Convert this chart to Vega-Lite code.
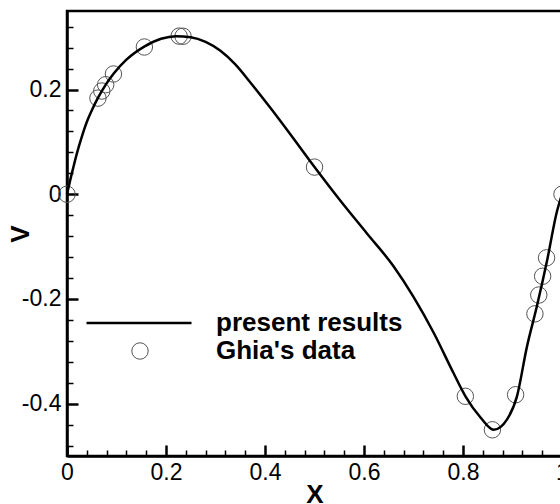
{
  "$schema": "https://vega.github.io/schema/vega-lite/v6.json",
  "width": 495,
  "height": 445,
  "autosize": "none",
  "padding": {"left": 67, "top": 11, "right": 10, "bottom": 48},
  "background": "white",
  "config": {"view": {"stroke": "black", "strokeWidth": 2.5}, "font": "Liberation Sans"},
  "datasets": {
    "ghia": [
      {"x": 0.0, "v": 0.0},
      {"x": 0.0625, "v": 0.1836},
      {"x": 0.0703, "v": 0.19713},
      {"x": 0.0781, "v": 0.2092},
      {"x": 0.0938, "v": 0.22965},
      {"x": 0.1563, "v": 0.28124},
      {"x": 0.2266, "v": 0.30203},
      {"x": 0.2344, "v": 0.30174},
      {"x": 0.5, "v": 0.05186},
      {"x": 0.8047, "v": -0.38598},
      {"x": 0.8594, "v": -0.44993},
      {"x": 0.9063, "v": -0.383},
      {"x": 0.9453, "v": -0.22847},
      {"x": 0.9531, "v": -0.19254},
      {"x": 0.9609, "v": -0.15663},
      {"x": 0.9688, "v": -0.12146},
      {"x": 1.0, "v": 0.0}
    ],
    "curve": [
      {"x": 0, "v": 0},
      {"x": 0.006, "v": 0.025},
      {"x": 0.013, "v": 0.052},
      {"x": 0.02, "v": 0.078},
      {"x": 0.03, "v": 0.11},
      {"x": 0.04, "v": 0.138},
      {"x": 0.05, "v": 0.16},
      {"x": 0.0625, "v": 0.184},
      {"x": 0.078, "v": 0.209},
      {"x": 0.094, "v": 0.23},
      {"x": 0.12, "v": 0.257},
      {"x": 0.156, "v": 0.282},
      {"x": 0.19, "v": 0.297},
      {"x": 0.22, "v": 0.302},
      {"x": 0.25, "v": 0.3},
      {"x": 0.28, "v": 0.291},
      {"x": 0.31, "v": 0.274},
      {"x": 0.34, "v": 0.248},
      {"x": 0.37, "v": 0.214},
      {"x": 0.41, "v": 0.166},
      {"x": 0.45, "v": 0.116},
      {"x": 0.5, "v": 0.052},
      {"x": 0.552, "v": -0.012},
      {"x": 0.606, "v": -0.075},
      {"x": 0.66, "v": -0.138},
      {"x": 0.7, "v": -0.196},
      {"x": 0.741, "v": -0.265},
      {"x": 0.781, "v": -0.342},
      {"x": 0.805, "v": -0.386},
      {"x": 0.835, "v": -0.426},
      {"x": 0.862, "v": -0.45},
      {"x": 0.889, "v": -0.43},
      {"x": 0.909, "v": -0.386},
      {"x": 0.929, "v": -0.292},
      {"x": 0.949, "v": -0.215},
      {"x": 0.97, "v": -0.126},
      {"x": 0.99, "v": -0.032},
      {"x": 1.0, "v": 0}
    ]
  },
  "encoding": {
    "x": {
      "field": "x",
      "type": "quantitative",
      "scale": {"domain": [0, 1], "nice": false, "zero": false},
      "axis": {
        "values": [0, 0.04, 0.08, 0.12, 0.16, 0.2, 0.24, 0.28, 0.32, 0.36, 0.4, 0.44, 0.48, 0.52, 0.56, 0.6, 0.64, 0.68, 0.72, 0.76, 0.8, 0.84, 0.88, 0.92, 0.96, 1],
        "labelExpr": "abs(datum.value*5-round(datum.value*5))>0.01 ? '' : '' + round(datum.value*10)/10",
        "tickSize": {"condition": {"test": "abs(datum.value*5-round(datum.value*5))>0.01", "value": -6}, "value": -11},
        "tickWidth": {"condition": {"test": "abs(datum.value*5-round(datum.value*5))>0.01", "value": 1.5}, "value": 2.5},
        "tickColor": "black",
        "labelPadding": 16.5,
        "labelFlush": false,
        "labelOverlap": false,
        "labelFont": "Liberation Sans",
        "labelFontSize": 23,
        "labelColor": "black",
        "domainColor": "black",
        "domainWidth": 2.5,
        "grid": false,
        "title": "X",
        "titleFont": "Liberation Sans",
        "titleFontSize": 26,
        "titleFontWeight": "bold",
        "titleColor": "black",
        "titleX": 247.5,
        "titleY": 38,
        "titleAlign": "center",
        "titleBaseline": "middle"
      }
    },
    "y": {
      "field": "v",
      "type": "quantitative",
      "scale": {"domain": [-0.5, 0.35], "nice": false, "zero": false},
      "axis": {
        "values": [-0.48, -0.44, -0.4, -0.36, -0.32, -0.28, -0.24, -0.2, -0.16, -0.12, -0.08, -0.04, 0, 0.04, 0.08, 0.12, 0.16, 0.2, 0.24, 0.28, 0.32],
        "labelExpr": "abs(datum.value*5-round(datum.value*5))>0.01 ? '' : '' + round(datum.value*10)/10",
        "tickSize": {"condition": {"test": "abs(datum.value*5-round(datum.value*5))>0.01", "value": -6}, "value": -11},
        "tickWidth": {"condition": {"test": "abs(datum.value*5-round(datum.value*5))>0.01", "value": 1.5}, "value": 2.5},
        "tickColor": "black",
        "labelPadding": 17,
        "labelFlush": false,
        "labelOverlap": false,
        "labelFont": "Liberation Sans",
        "labelFontSize": 23,
        "labelColor": "black",
        "domainColor": "black",
        "domainWidth": 2.5,
        "grid": false,
        "title": "V",
        "titleFont": "Liberation Sans",
        "titleFontSize": 26,
        "titleFontWeight": "bold",
        "titleColor": "black",
        "titleX": -47,
        "titleY": 222.5,
        "titleAngle": -90,
        "titleAlign": "center",
        "titleBaseline": "middle"
      }
    }
  },
  "layer": [
    {
      "data": {"name": "ghia"},
      "mark": {"type": "point", "filled": false, "stroke": "#555", "strokeWidth": 1, "size": 270, "opacity": 1},
      "encoding": {
        "shape": {
          "datum": "Ghia's data",
          "scale": {"domain": ["Ghia's data"], "range": ["circle"]},
          "legend": {
            "orient": "none",
            "legendX": 60,
            "legendY": 327,
            "title": null,
            "padding": 0,
            "symbolType": "circle",
            "symbolSize": 270,
            "symbolStrokeWidth": 1,
            "symbolStrokeColor": "#555",
            "symbolFillColor": "transparent",
            "labelFont": "Liberation Sans",
            "labelFontSize": 26,
            "labelFontWeight": "bold",
            "labelColor": "black",
            "labelLimit": 400,
            "labelOffset": 63
          }
        }
      }
    },
    {
      "data": {"name": "curve"},
      "mark": {"type": "line", "strokeWidth": 2.5, "interpolate": "monotone"},
      "encoding": {
        "color": {
          "datum": "present results",
          "scale": {"domain": ["present results"], "range": ["black"]},
          "legend": {
            "orient": "none",
            "legendX": 18,
            "legendY": 258,
            "title": null,
            "padding": 0,
            "symbolType": "stroke",
            "symbolSize": 11025,
            "symbolStrokeWidth": 2.5,
            "symbolStrokeColor": "black",
            "labelFont": "Liberation Sans",
            "labelFontSize": 26,
            "labelFontWeight": "bold",
            "labelColor": "black",
            "labelLimit": 400,
            "labelOffset": 23
          }
        }
      }
    }
  ]
}
